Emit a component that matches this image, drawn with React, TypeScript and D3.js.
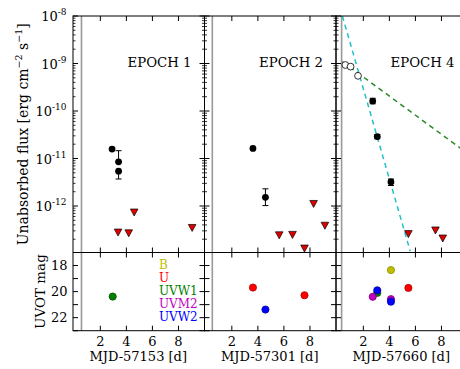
import React from 'react';
import * as d3 from 'd3';

// ---------- data ----------
const epochNames = ['EPOCH 1', 'EPOCH 2', 'EPOCH 4'];
const mjdLabels = ['MJD-57153 [d]', 'MJD-57301 [d]', 'MJD-57660 [d]'];
const xTicks = [2, 4, 6, 8];
const fluxTickExps = [-8, -9, -10, -11, -12];
const magTicks = [17, 18, 19, 20, 21, 22, 23];
const magTickLabels = [18, 20, 22];
const grayLineX = [0.55, 0.5, 0.33];

// Epoch 1 X-ray
const e1DetX = [2.9, 3.4, 3.4];
const e1DetY = [1.58e-11, 8.5e-12, 5.4e-12];
const e1DetLo = [1.58e-11, 8.5e-12, 3.7e-12];
const e1DetHi = [1.58e-11, 1.46e-11, 5.4e-12];
const e1UlX = [3.36, 4.18, 4.6, 9.05];
const e1UlY = [2.8e-13, 2.7e-13, 7.4e-13, 3.5e-13];

// Epoch 2 X-ray
const e2DetX = [3.62, 4.58];
const e2DetY = [1.63e-11, 1.52e-12];
const e2DetLo = [1.63e-11, 1.02e-12];
const e2DetHi = [1.63e-11, 2.3e-12];
const e2UlX = [5.64, 6.66, 8.28, 9.15, 7.58];
const e2UlY = [2.45e-13, 2.5e-13, 1.12e-12, 3.9e-13, 1.29e-13];

// Epoch 4 X-ray
const e4OpenX = [0.62, 1.02, 1.59];
const e4OpenY = [9.3e-10, 8.6e-10, 5.5e-10];
const e4DetX = [2.72, 3.07, 4.12];
const e4DetY = [1.62e-10, 2.9e-11, 3.2e-12];
const e4DetLo = [1.42e-10, 2.6e-11, 2.7e-12];
const e4DetHi = [1.85e-10, 3.2e-11, 3.7e-12];
const e4UlX = [5.46, 7.54, 8.1];
const e4UlY = [2.6e-13, 3.1e-13, 2.1e-13];
const cyanLineX = [0.39, 5.6];
const cyanLineY = [1.0e-8, 1.12e-13];
const greenLineX = [0.38, 10.0];
const greenLineY = [1.1e-9, 1.28e-11];

// UVOT
const filters = ['B', 'U', 'UVW1', 'UVM2', 'UVW2'];
const filterColors = ['#bfbf00', '#ff0000', '#008000', '#bf00bf', '#0000ff'];
const filterEdge = ['#8a8a00', '#b00000', '#005000', '#800080', '#0000a0'];
// per epoch, per filter: x, mag, err
const uv1X = [[], [], [2.95], [], []];
const uv1M = [[], [], [20.38], [], []];
const uv1E = [[], [], [0.1], [], []];
const uv2X = [[], [3.62, 7.58], [], [], [4.58]];
const uv2M = [[], [19.69, 20.28], [], [], [21.38]];
const uv2E = [[], [0.12, 0.12], [], [], [0.15]];
const uv4X = [[4.12], [5.46], [3.07], [2.72, 4.12], [3.07, 4.12]];
const uv4M = [[18.35], [19.72], [20.1], [20.4, 20.58], [19.9, 20.77]];
const uv4E = [[0.12], [0.22], [0.12], [0.12, 0.22], [0.15, 0.25]];

// ---------- layout ----------
const W = 460, H = 369;
const panelLeft = [73, 204.5, 336];
const panelW = 131.5;
const topY0 = 16, midY = 252.5, botY1 = 330.7;
const FONT = '"DejaVu Serif", serif';

type Pt = { x: number; y: number; lo: number; hi: number };

const panels = [
  {
    det: e1DetX.map((x, i) => ({ x, y: e1DetY[i], lo: e1DetLo[i], hi: e1DetHi[i] })),
    ul: e1UlX.map((x, i) => ({ x, y: e1UlY[i] })),
    open: [] as { x: number; y: number }[],
    lines: [] as { xs: number[]; ys: number[]; color: string }[],
    uv: { X: uv1X, M: uv1M, E: uv1E },
  },
  {
    det: e2DetX.map((x, i) => ({ x, y: e2DetY[i], lo: e2DetLo[i], hi: e2DetHi[i] })),
    ul: e2UlX.map((x, i) => ({ x, y: e2UlY[i] })),
    open: [] as { x: number; y: number }[],
    lines: [] as { xs: number[]; ys: number[]; color: string }[],
    uv: { X: uv2X, M: uv2M, E: uv2E },
  },
  {
    det: e4DetX.map((x, i) => ({ x, y: e4DetY[i], lo: e4DetLo[i], hi: e4DetHi[i] })),
    ul: e4UlX.map((x, i) => ({ x, y: e4UlY[i] })),
    open: e4OpenX.map((x, i) => ({ x, y: e4OpenY[i] })),
    lines: [
      { xs: greenLineX, ys: greenLineY, color: '#2a8a2a' },
      { xs: cyanLineX, ys: cyanLineY, color: '#22c0c8' },
    ],
    uv: { X: uv4X, M: uv4M, E: uv4E },
  },
];

const yTop = d3.scaleLog().domain([1.05e-13, 1e-8]).range([midY, topY0]);
const yBot = d3.scaleLinear().domain([17, 23]).range([midY, botY1]);

const minorFlux: number[] = [];
for (let e = -13; e < -8; e++) for (let m = 2; m <= 9; m++) {
  const v = m * Math.pow(10, e);
  if (v >= 1.05e-13 && v <= 1e-8) minorFlux.push(v);
}

function Panel({ idx }: { idx: number }) {
  const p = panels[idx];
  const left = panelLeft[idx];
  const x = d3.scaleLinear().domain([-0.1, 10]).range([left, left + panelW]);
  const clipTop = `clipTop${idx}`;
  const clipBot = `clipBot${idx}`;
  const right = left + panelW;
  const tri = (cx: number, cy: number) => `M${cx - 3.8},${cy - 3.2}L${cx + 3.8},${cy - 3.2}L${cx},${cy + 3.8}Z`;
  const line = d3.line<[number, number]>().x(d => x(d[0])).y(d => yTop(d[1]));
  return (
    <g>
      <defs>
        <clipPath id={clipTop}><rect x={left} y={topY0} width={panelW} height={midY - topY0} /></clipPath>
        <clipPath id={clipBot}><rect x={left} y={midY} width={panelW} height={botY1 - midY} /></clipPath>
      </defs>
      <line x1={x(grayLineX[idx])} x2={x(grayLineX[idx])} y1={topY0} y2={botY1} stroke="#999" strokeWidth={1.6} />
      {xTicks.map(t => (
        <g key={'xt' + t}>
          <line x1={x(t)} x2={x(t)} y1={topY0} y2={topY0 + 5} stroke="#000" />
          <line x1={x(t)} x2={x(t)} y1={midY} y2={midY - 5} stroke="#000" />
          <line x1={x(t)} x2={x(t)} y1={midY} y2={midY + 5} stroke="#000" />
          <line x1={x(t)} x2={x(t)} y1={botY1} y2={botY1 - 5} stroke="#000" />
          <text x={x(t)} y={345.5} textAnchor="middle" fontSize={13} fontFamily={FONT}>{t}</text>
        </g>
      ))}
      {fluxTickExps.map(e => (
        <g key={'ft' + e}>
          <line x1={left} x2={left + 5} y1={yTop(Math.pow(10, e))} y2={yTop(Math.pow(10, e))} stroke="#000" />
          <line x1={right} x2={right - 5} y1={yTop(Math.pow(10, e))} y2={yTop(Math.pow(10, e))} stroke="#000" />
        </g>
      ))}
      {minorFlux.map((v, i) => (
        <g key={'mf' + i}>
          <line x1={left} x2={left + 2.5} y1={yTop(v)} y2={yTop(v)} stroke="#000" strokeWidth={0.8} />
          <line x1={right} x2={right - 2.5} y1={yTop(v)} y2={yTop(v)} stroke="#000" strokeWidth={0.8} />
        </g>
      ))}
      {magTicks.map(m => (
        <g key={'mt' + m}>
          <line x1={left} x2={left + 5} y1={yBot(m)} y2={yBot(m)} stroke="#000" />
          <line x1={right} x2={right - 5} y1={yBot(m)} y2={yBot(m)} stroke="#000" />
        </g>
      ))}
      <g clipPath={`url(#${clipTop})`}>
        {p.lines.map((l, i) => (
          <path key={i} d={line(l.xs.map((v, j) => [v, l.ys[j]] as [number, number])) || ''}
            fill="none" stroke={l.color} strokeWidth={1.5} strokeDasharray="5,4" />
        ))}
        {p.open.map((d, i) => (
          <circle key={'o' + i} cx={x(d.x)} cy={yTop(d.y)} r={3.4} fill="#fff" stroke="#000" strokeWidth={0.8} />
        ))}
        {p.det.map((d: Pt, i) => (
          <g key={'d' + i}>
            {d.lo !== d.hi && (
              <g stroke="#000" strokeWidth={1}>
                <line x1={x(d.x)} x2={x(d.x)} y1={yTop(d.lo)} y2={yTop(d.hi)} />
                <line x1={x(d.x) - 3} x2={x(d.x) + 3} y1={yTop(d.lo)} y2={yTop(d.lo)} />
                <line x1={x(d.x) - 3} x2={x(d.x) + 3} y1={yTop(d.hi)} y2={yTop(d.hi)} />
              </g>
            )}
            <circle cx={x(d.x)} cy={yTop(d.y)} r={3.4} fill="#000" />
          </g>
        ))}
        {p.ul.map((d, i) => (
          <path key={'u' + i} d={tri(x(d.x), yTop(d.y))} fill="#e00000" stroke="#000" strokeWidth={0.7} />
        ))}
      </g>
      <g clipPath={`url(#${clipBot})`}>
        {filters.map((f, fi) => p.uv.X[fi].map((xv: number, j: number) => {
          const m = p.uv.M[fi][j];
          const e = p.uv.E[fi][j];
          return (
            <g key={f + j}>
              <line x1={x(xv)} x2={x(xv)} y1={yBot(m - e)} y2={yBot(m + e)} stroke={filterColors[fi]} strokeWidth={1} />
              <circle cx={x(xv)} cy={yBot(m)} r={3.6} fill={filterColors[fi]} stroke={filterEdge[fi]} strokeWidth={0.8} />
            </g>
          );
        }))}
      </g>
      <text x={left + 86.5} y={67} textAnchor="middle" fontSize={13.3} fontFamily={FONT}>{epochNames[idx]}</text>
      <text x={left + panelW / 2 - 0.5} y={361} textAnchor="middle" fontSize={13} fontFamily={FONT}>{mjdLabels[idx]}</text>
      <rect x={left} y={topY0} width={panelW} height={botY1 - topY0} fill="none" stroke="#000" strokeWidth={1} />
      <line x1={left} x2={right} y1={midY} y2={midY} stroke="#000" strokeWidth={1} />
    </g>
  );
}

export default function App() {
  return (
    <svg width={W} height={H} style={{ position: 'absolute', left: 0, top: 0, background: '#fff' }}>
      <rect width={W} height={H} fill="#fff" />
      {[0, 1, 2].map(i => <Panel key={i} idx={i} />)}
      {fluxTickExps.map(e => (
        <text key={e} x={66.5} y={yTop(Math.pow(10, e)) + 5} textAnchor="end" fontSize={13} fontFamily={FONT}>
          10<tspan dy={-6} fontSize={9}>{e}</tspan>
        </text>
      ))}
      {magTickLabels.map(m => (
        <text key={m} x={67.5} y={yBot(m) + 4.5} textAnchor="end" fontSize={13} fontFamily={FONT}>{m}</text>
      ))}
      {filters.map((f, i) => (
        <text key={f} x={159} y={269 + i * 13.1} fontSize={12} fontFamily={FONT} fill={filterColors[i]}>{f}</text>
      ))}
      <text transform={`translate(28,${(topY0 + midY) / 2}) rotate(-90)`} textAnchor="middle" fontSize={14} fontFamily={FONT}>
        Unabsorbed flux [erg cm<tspan dy={-6} fontSize={9.5}>−2</tspan><tspan dy={6}> s</tspan><tspan dy={-6} fontSize={9.5}>−1</tspan><tspan dy={6}>]</tspan>
      </text>
      <text transform={`translate(45,${(midY + botY1) / 2}) rotate(-90)`} textAnchor="middle" fontSize={13.5} fontFamily={FONT}>
        UVOT mag
      </text>
    </svg>
  );
}
